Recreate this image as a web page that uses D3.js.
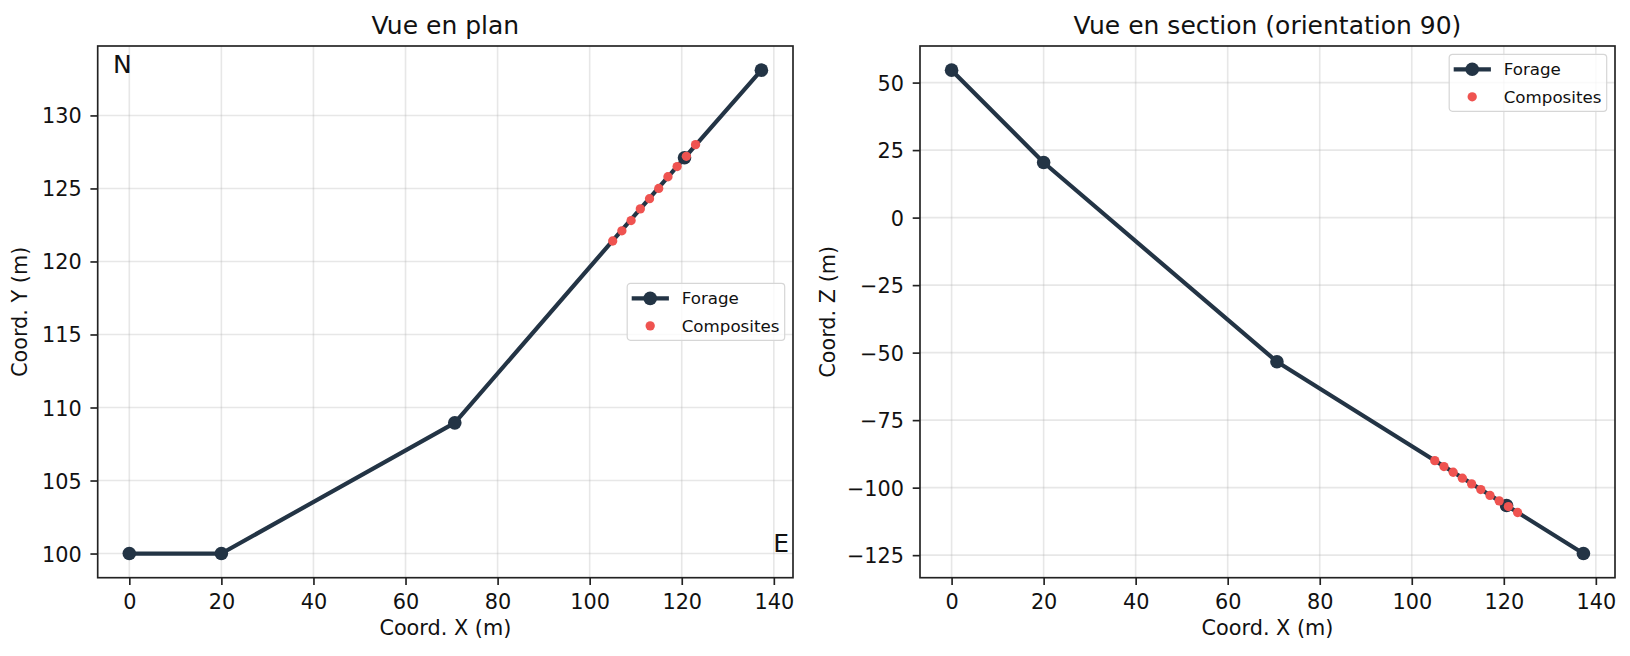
<!DOCTYPE html>
<html>
<head>
<meta charset="utf-8">
<script src="https://cdn.jsdelivr.net/npm/d3@7"></script>
<style>
  body { margin: 0; background: #fff; }
  svg { display: block; font-family: 'DejaVu Sans', sans-serif; }
</style>
</head>
<body>
<div id="viz"></div>
<script>
// hole survey points (forage)
const holeX = [0, 20, 70.7, 120.6, 137.3];
const holeY = [100, 100, 108.95, 127.1, 133.1];
const holeZ = [54.6, 20.4, -53.4, -106.6, -124.4];

// composites
const compX = [105, 107, 109, 111, 113, 115, 117, 119, 121, 123];
const compY = [121.4, 122.1, 122.8, 123.6, 124.3, 125.0, 125.8, 126.5, 127.2, 128.0];
const compZ = [-90.0, -92.2, -94.3, -96.5, -98.6, -100.7, -102.9, -104.9, -107.0, -109.2];

// ticks
const xTicks = [0, 20, 40, 60, 80, 100, 120, 140];
const yTicks = [100, 105, 110, 115, 120, 125, 130];
const zTicks = [-125, -100, -75, -50, -25, 0, 25, 50];

const lineColor = '#233445';
const compColor = '#ef5350';
const fs = 20.8; // 10pt at 150 dpi

let svg = d3
  .select('#viz')
  .append('svg')
  .attr('width', 1630)
  .attr('height', 656);

svg.append('rect').attr('width', 1630).attr('height', 656).attr('fill', '#fff');

// matplotlib-like 5% margin
function padded(vals) {
  const [a, b] = d3.extent(vals);
  const m = (b - a) * 0.05;
  return [a - m, b + m];
}

function drawPanel(opt) {
  const { x0, x1, y0, y1 } = opt;
  const g = svg.append('g');

  let x = d3.scaleLinear().domain(padded(opt.hx)).range([x0, x1]);
  let y = d3.scaleLinear().domain(padded(opt.hy)).range([y1, y0]);

  // grid
  g.append('g')
    .selectAll('line.gx')
    .data(opt.xTicks)
    .enter()
    .append('line')
    .attr('x1', (d) => x(d))
    .attr('x2', (d) => x(d))
    .attr('y1', y0)
    .attr('y2', y1)
    .attr('stroke', '#b0b0b0')
    .attr('stroke-opacity', 0.3)
    .attr('stroke-width', 1.6);

  g.append('g')
    .selectAll('line.gy')
    .data(opt.yTicks)
    .enter()
    .append('line')
    .attr('x1', x0)
    .attr('x2', x1)
    .attr('y1', (d) => y(d))
    .attr('y2', (d) => y(d))
    .attr('stroke', '#b0b0b0')
    .attr('stroke-opacity', 0.3)
    .attr('stroke-width', 1.6);

  // axes
  let xAxis = g
    .append('g')
    .attr('transform', `translate(0,${y1})`)
    .call(d3.axisBottom(x).tickValues(opt.xTicks).tickSize(7.3).tickSizeOuter(0).tickPadding(9.5));
  let yAxis = g
    .append('g')
    .attr('transform', `translate(${x0},0)`)
    .call(d3.axisLeft(y).tickValues(opt.yTicks).tickSize(7.3).tickSizeOuter(0).tickPadding(8.7));

  [xAxis, yAxis].forEach((a) => {
    a.select('.domain').remove();
    a.selectAll('line').attr('stroke', '#222').attr('stroke-width', 1.67);
    a.selectAll('text')
      .attr('fill', '#111')
      .style('font-size', fs + 'px')
      .style('font-family', "'DejaVu Sans', sans-serif");
  });
  yAxis.selectAll('text').attr('dy', '0.36em');

  // spines
  g.append('rect')
    .attr('x', x0)
    .attr('y', y0)
    .attr('width', x1 - x0)
    .attr('height', y1 - y0)
    .attr('fill', 'none')
    .attr('stroke', '#222')
    .attr('stroke-width', 1.67);

  // hole trace
  const pts = opt.hx.map((d, i) => [d, opt.hy[i]]);
  g.append('path')
    .datum(pts)
    .attr('fill', 'none')
    .attr('stroke', lineColor)
    .attr('stroke-width', 4.2)
    .attr('stroke-linejoin', 'round')
    .attr('d', d3.line().x((d) => x(d[0])).y((d) => y(d[1])));

  g.append('g')
    .selectAll('circle')
    .data(pts)
    .enter()
    .append('circle')
    .attr('cx', (d) => x(d[0]))
    .attr('cy', (d) => y(d[1]))
    .attr('r', 6.8)
    .attr('fill', lineColor);

  // composites
  const cpts = opt.cx.map((d, i) => [d, opt.cy[i]]);
  g.append('g')
    .selectAll('circle')
    .data(cpts)
    .enter()
    .append('circle')
    .attr('cx', (d) => x(d[0]))
    .attr('cy', (d) => y(d[1]))
    .attr('r', 4.65)
    .attr('fill', compColor);

  // title
  g.append('text')
    .attr('x', (x0 + x1) / 2)
    .attr('y', y0 - 12.5)
    .attr('text-anchor', 'middle')
    .style('font-size', '25px')
    .attr('fill', '#111')
    .text(opt.title);

  // labels
  g.append('text')
    .attr('x', (x0 + x1) / 2)
    .attr('y', 635)
    .attr('text-anchor', 'middle')
    .style('font-size', fs + 'px')
    .attr('fill', '#111')
    .text(opt.xLabel);

  g.append('text')
    .attr('transform', `translate(${opt.yLabelX},${(y0 + y1) / 2}) rotate(-90)`)
    .attr('text-anchor', 'middle')
    .style('font-size', fs + 'px')
    .attr('fill', '#111')
    .text(opt.yLabel);

  // legend
  const lw = 157.5,
    lh = 57;
  let lx = x1 - 8.3 - lw;
  let ly = opt.legend == 'center right' ? (y0 + y1) / 2 - lh / 2 : y0 + 8.3;
  let leg = g.append('g').attr('transform', `translate(${lx},${ly})`);
  leg
    .append('rect')
    .attr('width', lw)
    .attr('height', lh)
    .attr('rx', 3.3)
    .attr('fill', '#fff')
    .attr('fill-opacity', 0.8)
    .attr('stroke', '#d6d6d6')
    .attr('stroke-width', 1.2);
  leg
    .append('line')
    .attr('x1', 4.5)
    .attr('x2', 41.7)
    .attr('y1', 15)
    .attr('y2', 15)
    .attr('stroke', lineColor)
    .attr('stroke-width', 4.2);
  leg.append('circle').attr('cx', 23).attr('cy', 15).attr('r', 6.8).attr('fill', lineColor);
  leg.append('circle').attr('cx', 23).attr('cy', 42.5).attr('r', 4.65).attr('fill', compColor);
  leg
    .selectAll('text')
    .data(['Forage', 'Composites'])
    .enter()
    .append('text')
    .attr('x', 54.5)
    .attr('y', (d, i) => (i == 0 ? 15 : 42.5) + 5.9)
    .style('font-size', '16.7px')
    .attr('fill', '#111')
    .text((d) => d);

  if (opt.compass) {
    g.append('text')
      .attr('x', x0 + 15.3)
      .attr('y', y0 + 27)
      .style('font-size', '25px')
      .attr('fill', '#111')
      .text('N');
    g.append('text')
      .attr('x', x1 - 19.7)
      .attr('y', y1 - 25.4)
      .style('font-size', '25px')
      .attr('fill', '#111')
      .text('E');
  }
}

drawPanel({
  x0: 97.7, x1: 793, y0: 46, y1: 577.7,
  hx: holeX, hy: holeY, cx: compX, cy: compY,
  xTicks: xTicks, yTicks: yTicks,
  title: 'Vue en plan',
  xLabel: 'Coord. X (m)',
  yLabel: 'Coord. Y (m)',
  yLabelX: 27,
  legend: 'center right',
  compass: true
});

drawPanel({
  x0: 920, x1: 1615, y0: 46, y1: 577.7,
  hx: holeX, hy: holeZ, cx: compX, cy: compZ,
  xTicks: xTicks, yTicks: zTicks,
  title: 'Vue en section (orientation 90)',
  xLabel: 'Coord. X (m)',
  yLabel: 'Coord. Z (m)',
  yLabelX: 834.7,
  legend: 'upper right',
  compass: false
});
</script>
</body>
</html>
